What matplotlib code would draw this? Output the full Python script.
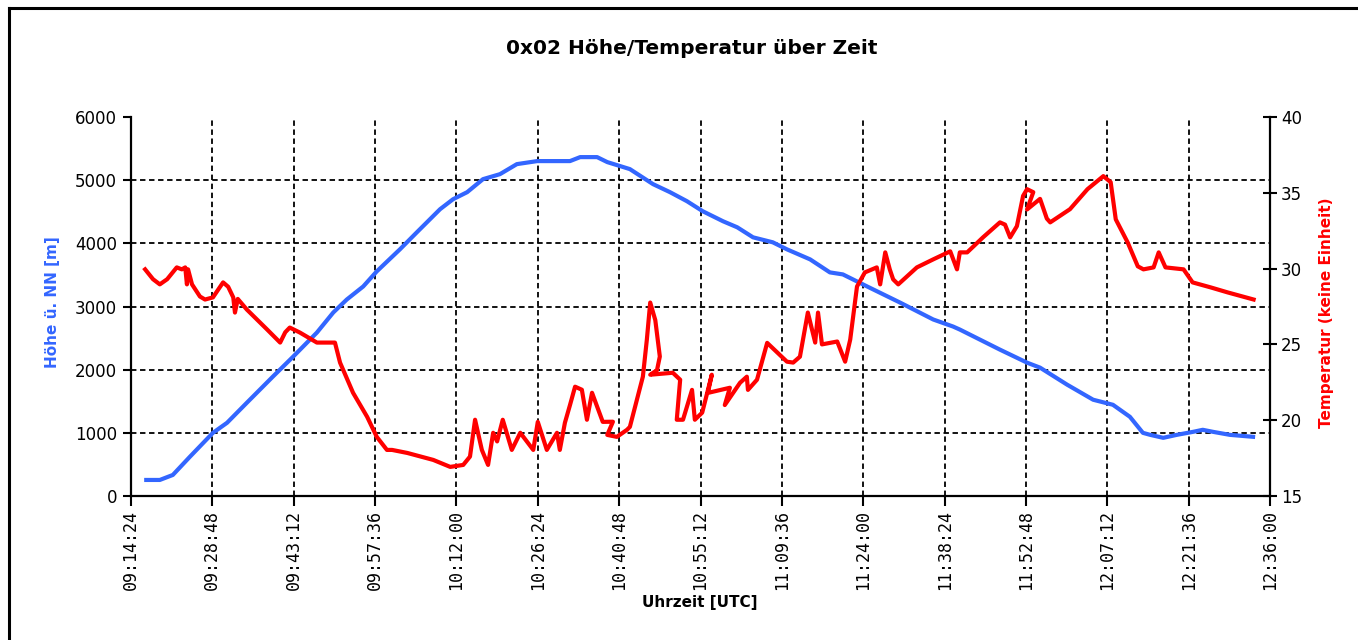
import matplotlib
matplotlib.use("Agg")
import matplotlib.pyplot as plt
from matplotlib.lines import Line2D

# ---- data (time in minutes after 09:00 UTC) ----
alt_time = [17.1, 19.5, 21.8, 24.8, 28.9, 31.4, 34.9, 39.5, 43.1, 47.3, 50.2, 52.6,
            55.5, 57.9, 62.0, 65.0, 69.1, 71.4, 73.9, 76.7, 79.7, 82.7, 86.3, 92.1,
            93.9, 96.9, 98.7, 102.7, 106.8, 109.8, 112.8, 115.6, 119.2, 121.7, 124.5,
            128.0, 130.5, 134.6, 138.1, 140.4, 144.7, 150.5, 156.4, 159.9, 161.1,
            168.2, 173.0, 175.3, 180.1, 184.7, 188.2, 191.2, 193.5, 194.8, 197.1,
            199.5, 202.4, 204.1, 205.9, 208.9, 213.0]
alt_m = [254, 254, 333, 619, 1000, 1159, 1476, 1889, 2206, 2587, 2905, 3111,
         3317, 3556, 3905, 4175, 4540, 4698, 4810, 5016, 5095, 5254, 5302, 5302,
         5365, 5365, 5286, 5175, 4937, 4810, 4667, 4508, 4349, 4254, 4095,
         4016, 3905, 3746, 3540, 3508, 3317, 3063, 2794, 2683, 2635,
         2317, 2111, 2032, 1762, 1524, 1444, 1254, 1000, 968, 921,
         968, 1016, 1048, 1016, 968, 937]

temp_time = [16.9, 18.3, 19.5, 20.8, 22.5, 23.4, 24.0, 24.3, 24.5, 25.2, 26.6, 27.5,
             28.9, 30.7, 31.6, 32.5, 32.8, 33.3, 34.9, 38.5, 40.8, 41.7, 42.5, 44.3,
             47.3, 50.5, 51.4, 53.7, 56.2, 57.9, 59.7, 60.6, 63.3, 67.9, 70.9, 73.2,
             74.4, 75.3, 76.5, 77.6, 78.5, 79.2, 80.2, 81.8, 83.3, 85.6, 86.4, 88.0,
             89.8, 90.3, 91.2, 92.1, 93.0, 94.2, 95.1, 96.0, 97.9, 99.7, 98.7, 100.4,
             102.2, 102.7, 105.0, 105.7, 106.3, 107.2, 108.0, 107.5, 106.3, 110.3,
             111.6, 111.0, 112.1, 113.7, 114.2, 115.5, 117.2, 116.5, 120.4, 119.5,
             122.2, 123.4, 123.6, 125.2, 127.0, 128.7, 130.5, 131.6, 132.8, 134.2,
             135.5, 136.0, 136.7, 139.4, 140.8, 141.7, 142.9, 144.3, 146.4, 147.0,
             147.9, 148.7, 149.3, 150.2, 153.5, 156.4, 159.4, 160.6, 161.1, 162.4,
             165.2, 168.2, 169.1, 170.0, 171.2, 172.3, 173.0, 174.1, 173.0, 175.3,
             176.5, 177.1, 180.6, 183.7, 186.5, 187.8, 188.7, 190.8, 192.6, 193.6,
             195.4, 196.3, 197.5, 200.7, 202.3, 205.5, 208.5, 213.1]
temp_c = [29.95, 29.3, 28.96, 29.3, 30.08, 29.95, 30.08, 28.96, 29.95, 28.96, 28.16, 27.96,
          28.1, 29.09, 28.8, 28.1, 27.1, 28.0, 27.3, 25.98, 25.12, 25.8, 26.11, 25.78,
          25.12, 25.12, 23.8, 21.81, 20.22, 18.9, 18.04, 18.04, 17.84, 17.38, 16.92, 17.05,
          17.6, 20.03, 18.04, 17.05, 19.17, 18.6, 20.03, 18.04, 19.17, 18.04, 19.89, 18.04,
          19.17, 18.04, 19.83, 21.0, 22.21, 22.01, 20.03, 21.81, 19.89, 19.9, 19.03, 18.9,
          19.37, 19.56, 22.87, 25.3, 27.76, 26.6, 24.2, 23.3, 23.0, 23.13,
          22.67, 20.03, 20.03, 22.0, 20.03, 20.5, 23.0, 21.8, 22.14, 21.0,
          22.47, 22.87, 22.0, 22.67, 25.1, 24.5, 23.86, 23.8, 24.19, 27.1,
          25.12, 27.1, 25.0, 25.19, 23.86, 25.32, 28.82, 29.75, 30.08, 28.96,
          31.07, 29.95, 29.29, 28.96, 30.08, 30.61, 31.14, 29.95, 31.07, 31.07,
          32.06, 33.05, 32.9, 32.06, 32.8, 34.8, 35.24, 35.04, 33.9, 34.6,
          33.3, 33.05, 33.92, 35.24, 36.1, 35.7, 33.25, 31.73, 30.15, 29.95,
          30.08, 31.07, 30.08, 29.95, 29.09, 28.76, 28.43, 27.96]

x_ticks = [14.4 + 14.4 * k for k in range(15)]
x_labels = ["09:14:24", "09:28:48", "09:43:12", "09:57:36", "10:12:00", "10:26:24",
            "10:40:48", "10:55:12", "11:09:36", "11:24:00", "11:38:24", "11:52:48",
            "12:07:12", "12:21:36", "12:36:00"]
alt_ticks = [0, 1000, 2000, 3000, 4000, 5000, 6000]
temp_ticks = [15, 20, 25, 30, 35, 40]

BLUE = "#3366FF"
RED = "#FF0000"

fig = plt.figure(figsize=(13.58, 6.40), dpi=100)
fig.patch.set_facecolor("white")
ax = fig.add_axes([131 / 1358, 1 - 496 / 640, (1270 - 131) / 1358, (496 - 117) / 640])
ax2 = ax.twinx()

ax.set_xlim(x_ticks[0], x_ticks[-1])
ax.set_ylim(alt_ticks[0], alt_ticks[-1])
ax2.set_ylim(temp_ticks[0], temp_ticks[-1])

# grid
for xt in x_ticks[1:]:
    ax.axvline(xt, color="black", lw=1.3, dashes=(3.0, 2.0), zorder=1)
for yt in alt_ticks[1:-1]:
    ax.axhline(yt, color="black", lw=1.3, dashes=(3.0, 2.0), zorder=1)

ax.plot(alt_time, alt_m, color=BLUE, lw=3.0, zorder=3, solid_joinstyle="round")
ax2.plot(temp_time, temp_c, color=RED, lw=3.0, zorder=3, solid_joinstyle="round")

ax.set_xticks(x_ticks)
ax.set_xticklabels(x_labels, rotation=90, fontsize=12, family="DejaVu Sans Mono")
ax.set_yticks(alt_ticks)
ax.set_yticklabels([str(v) for v in alt_ticks], fontsize=12)
ax2.set_yticks(temp_ticks)
ax2.set_yticklabels([str(v) for v in temp_ticks], fontsize=12)

for a in (ax, ax2):
    a.spines["top"].set_visible(False)
    for s in ("left", "right", "bottom"):
        a.spines[s].set_linewidth(1.6)
        a.spines[s].set_color("black")
ax.spines["right"].set_visible(False)
ax2.spines["left"].set_visible(False)
ax2.spines["bottom"].set_visible(False)

ax.tick_params(axis="x", direction="out", length=7, width=1.5, pad=3)
ax.tick_params(axis="y", direction="out", length=6, width=1.5, pad=4)
ax2.tick_params(axis="y", direction="inout", length=10, width=1.5, pad=3)

fig.text(692 / 1358, 1 - 48 / 640, "0x02 Höhe/Temperatur über Zeit", ha="center",
         va="center", fontsize=14.5, fontweight="bold")
fig.text(53 / 1358, 1 - 302 / 640, "Höhe ü. NN [m]", rotation=90, ha="center",
         va="center", fontsize=11, fontweight="bold", color=BLUE)
fig.text(1327 / 1358, 1 - 313 / 640, "Temperatur (keine Einheit)", rotation=90,
         ha="center", va="center", fontsize=11, fontweight="bold", color=RED)
fig.text(700 / 1358, 1 - 603 / 640, "Uhrzeit [UTC]", ha="center", va="center",
         fontsize=11, fontweight="bold")

# outer frame (left and top edges visible)
fig.add_artist(Line2D([9 / 1358, 9 / 1358], [0, 1 - 8 / 640], transform=fig.transFigure,
                      color="black", lw=2.2))
fig.add_artist(Line2D([9 / 1358, 1], [1 - 8 / 640, 1 - 8 / 640], transform=fig.transFigure,
                      color="black", lw=2.2))

fig.savefig("out.png", dpi=100)
